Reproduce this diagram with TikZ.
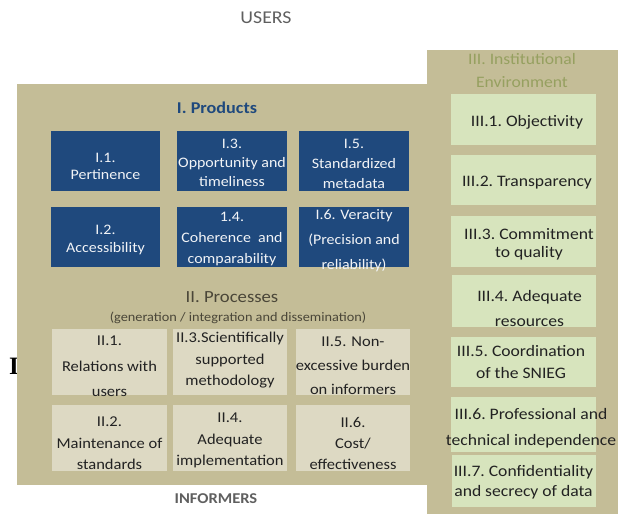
\documentclass[tikz,border=0pt]{standalone}
\usepackage{fontspec}
\setmainfont{Carlito}[FakeStretch=1.1]
\newfontfamily\serifI{Liberation Serif}
\definecolor{tanbg}{HTML}{C4BD97}
\definecolor{navy}{HTML}{1F497D}
\definecolor{procfill}{HTML}{DDD9C3}
\definecolor{envfill}{HTML}{D7E4BD}
\definecolor{envtitle}{RGB}{150,160,96}
\definecolor{graytext}{HTML}{5F5F5F}
\definecolor{darktext}{HTML}{222222}
\definecolor{lighttext}{HTML}{F2F4F7}
\definecolor{proctitle}{HTML}{4A4638}
\newcommand{\fs}[2]{\fontsize{#1}{#2}\selectfont}
\tikzset{
  panel/.style={fill=tanbg, draw=none},
  bluebox/.style={fill=navy, draw=none, inner sep=0pt},
  procbox/.style={fill=procfill, draw=none, inner sep=0pt},
  envbox/.style={fill=envfill, draw=none, inner sep=0pt},
  btext/.style={text=lighttext, align=center, inner sep=0pt},
  ptext/.style={text=darktext, align=center, inner sep=0pt},
  etext/.style={text=darktext, align=center, inner sep=0pt},
}
\begin{document}
\begin{tikzpicture}[x=1pt,y=-1pt]
\useasboundingbox (0,0) rectangle (618,514);
% stray glyph at left edge
\node[inner sep=0pt, text=black, font=\serifI\bfseries\fs{25}{25}] (stray) at (14,366) {I};
% panels
\path[panel] (17,84) rectangle (427,485);
\path[panel] (427,50) rectangle (618,514);
% outer labels
\node[text=graytext, inner sep=0pt, font=\fs{18}{20}] (users) at (266,18) {USERS};
\node[text=graytext, inner sep=0pt, font=\fs{15}{17}\bfseries] (informers) at (216,499) {INFORMERS};
% titles
\node[text=navy, inner sep=0pt, font=\fs{16.5}{18}\bfseries] (prodtitle) at (217,108) {I. Products};
\node[text=proctitle, inner sep=0pt, font=\fs{17}{19}] (proctitle) at (232,297) {II. Processes};
\node[text=proctitle, inner sep=0pt, font=\fs{13}{15}] (procsub) at (238,318) {(generation / integration and dissemination)};
\node[text=envtitle, align=center, inner sep=0pt, font=\fs{16}{23}] (envtitle) at (522,71) {III. Institutional\\Environment};
% product boxes
\node[bluebox, minimum width=109pt, minimum height=60pt] (p11) at (105.5,161) {};
\node[bluebox, minimum width=110pt, minimum height=60pt] (p13) at (232,161) {};
\node[bluebox, minimum width=110pt, minimum height=60pt] (p15) at (354,161) {};
\node[bluebox, minimum width=109pt, minimum height=60pt] (p12) at (105.5,237) {};
\node[bluebox, minimum width=110pt, minimum height=60pt] (p14) at (232,237) {};
\node[bluebox, minimum width=110pt, minimum height=60pt] (p16) at (354,237) {};
\node[btext, font=\fs{14.5}{17}] (p11t) at (105.5,166) {I.1.\\Pertinence};
\node[btext, font=\fs{14.5}{19}] (p13t) at (232,163) {I.3.\\Opportunity and\\timeliness};
\node[btext, font=\fs{14.5}{20}] (p15t) at (354,164) {I.5.\\Standardized\\metadata};
\node[btext, font=\fs{14.5}{18}] (p12t) at (105.5,240) {I.2.\\Accessibility};
\node[btext, font=\fs{14.5}{21}] (p14t) at (232,239) {1.4.\\Coherence\ \ and\\comparability};
\node[btext, font=\fs{14.5}{25}] (p16t) at (354,240.5) {I.6. Veracity\\(Precision and\\reliability)};
% process boxes
\node[procbox, minimum width=115pt, minimum height=66pt] (q21) at (109.5,362) {};
\node[procbox, minimum width=114pt, minimum height=66pt] (q23) at (230,362) {};
\node[procbox, minimum width=114pt, minimum height=66pt] (q25) at (353,362) {};
\node[procbox, minimum width=115pt, minimum height=66pt] (q22) at (109.5,438) {};
\node[procbox, minimum width=114pt, minimum height=66pt] (q24) at (230,438) {};
\node[procbox, minimum width=114pt, minimum height=66pt] (q26) at (353,438) {};
\node[ptext, font=\fs{15}{25.5}] (q21t) at (109.5,366.5) {II.1.\\Relations with\\users};
\node[ptext, font=\fs{15}{21.5}] (q23t) at (230,360.5) {II.3.Scientifically\\supported\\methodology};
\node[ptext, font=\fs{15}{24}] (q25t) at (353,366) {II.5. Non-\\excessive burden\\on informers};
\node[ptext, font=\fs{15}{21.5}] (q22t) at (109.5,443.5) {II.2.\\Maintenance of\\standards};
\node[ptext, font=\fs{15}{21.5}] (q24t) at (230,440.5) {II.4.\\Adequate\\implementation};
\node[ptext, font=\fs{15}{21}] (q26t) at (353,443) {II.6.\\Cost/\\effectiveness};
% institutional environment boxes
\node[envbox, minimum width=145pt, minimum height=51pt] (r1) at (523.5,119.5) {};
\node[envbox, minimum width=145pt, minimum height=50pt] (r2) at (523.5,180) {};
\node[envbox, minimum width=145pt, minimum height=51pt] (r3) at (523.5,241.5) {};
\node[envbox, minimum width=144pt, minimum height=52pt] (r4) at (524,301) {};
\node[envbox, minimum width=145pt, minimum height=50pt] (r5) at (523.5,362) {};
\node[envbox, minimum width=145pt, minimum height=55pt] (r6) at (523.5,424.5) {};
\node[envbox, minimum width=144pt, minimum height=52pt] (r7) at (524,481) {};
\node[etext, font=\fs{16}{18}] (r1t) at (527,122) {III.1.\ Objectivity};
\node[etext, font=\fs{16}{18}] (r2t) at (527,183) {III.2.\ Transparency};
\node[etext, font=\fs{16}{18}] (r3t) at (529,244) {III.3.\ Commitment\\to quality};
\node[etext, font=\fs{16}{25}] (r4t) at (529.5,308.5) {III.4.\ Adequate\\resources};
\node[etext, font=\fs{16}{22}] (r5t) at (521,362) {III.5.\ Coordination\\of the SNIEG};
\node[etext, font=\fs{16}{26}] (r6t) at (531,428) {III.6.\ Professional and\\technical independence};
\node[etext, font=\fs{16}{20}] (r7t) at (523.5,482) {III.7.\ Confidentiality\\and secrecy of data};
\end{tikzpicture}
\end{document}
